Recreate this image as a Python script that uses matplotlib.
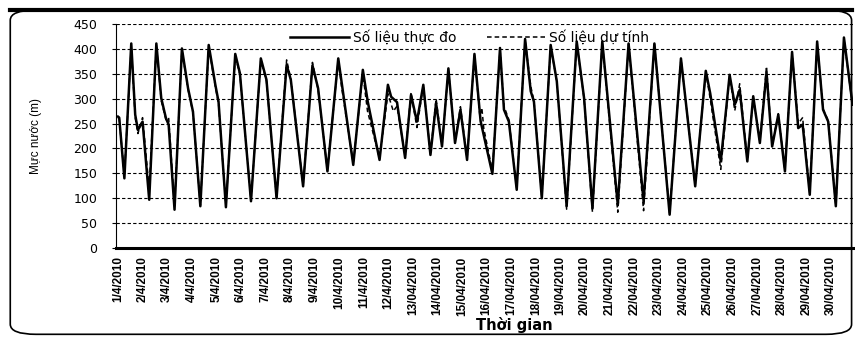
import numpy as np
import matplotlib.pyplot as plt
from matplotlib.patches import FancyBboxPatch

# time in days since 1/4/2010 00:00, water level (cm shown as "m" in the source)
t_do = [0.0, 0.05, 0.26, 0.54, 0.70, 0.81, 1.00, 1.27, 1.56, 1.76, 1.95, 2.06, 2.30,
        2.60, 2.85, 3.05, 3.35, 3.69, 3.96, 4.09, 4.39, 4.77, 4.96, 5.41, 5.81, 6.04,
        6.45, 6.86, 7.03, 7.53, 7.91, 8.14, 8.52, 8.96, 9.57, 9.96, 10.16, 10.64,
        10.98, 11.11, 11.35, 11.68, 11.92, 12.16, 12.42, 12.71, 12.94, 13.18, 13.44,
        13.71, 13.93, 14.20, 14.50, 14.75, 15.23, 15.54, 15.70, 15.90, 16.22, 16.56,
        16.79, 16.92, 17.24, 17.60, 17.85, 18.25, 18.66, 18.96, 19.30, 19.70, 20.33,
        20.77, 21.38, 21.82, 22.44, 22.90, 23.48, 23.91, 24.09, 24.52, 24.88, 25.09,
        25.29, 25.60, 25.84, 26.11, 26.38, 26.61, 26.86, 27.13, 27.42, 27.67, 27.85,
        28.14, 28.44, 28.68, 28.89, 29.20, 29.53, 29.88]
h_do = [264, 262, 140, 411, 268, 237, 254, 97, 411, 301, 261, 248, 77,
        401, 321, 274, 84, 408, 328, 294, 82, 390, 351, 94, 381, 338,
        100, 368, 338, 124, 367, 321, 154, 381, 167, 358, 294, 177,
        328, 304, 293, 181, 308, 254, 328, 187, 291, 204, 361,
        211, 278, 177, 390, 255, 149, 402, 278, 254, 117, 420,
        315, 294, 100, 408, 335, 84, 415, 301, 80, 415, 87,
        411, 94, 411, 67, 381, 124, 356, 311, 174, 348, 288,
        318, 174, 305, 211, 353, 204, 268, 154, 394, 241, 248,
        107, 415, 278, 254, 84, 423, 288]

t_dt = [0.0, 0.05, 0.26, 0.54, 0.70, 0.81, 1.00, 1.27, 1.56, 1.76, 1.95, 2.06, 2.30,
        2.60, 2.85, 3.05, 3.35, 3.69, 3.96, 4.09, 4.39, 4.77, 4.96, 5.41, 5.81, 6.04,
        6.45, 6.86, 7.03, 7.53, 7.91, 8.14, 8.52, 8.96, 9.10, 9.57, 9.96, 10.15, 10.64,
        10.98, 11.20, 11.35, 11.68, 11.92, 12.16, 12.42, 12.71, 12.94, 13.18, 13.44,
        13.71, 13.93, 14.20, 14.50, 14.72, 14.80, 14.88, 15.23, 15.54, 15.70, 15.90,
        16.22, 16.56, 16.79, 16.92, 17.24, 17.60, 17.85, 18.25, 18.66, 18.96, 19.30,
        19.70, 20.33, 20.77, 21.38, 21.82, 22.44, 22.90, 23.48, 23.91, 24.09, 24.52,
        24.88, 25.09, 25.29, 25.60, 25.84, 26.11, 26.38, 26.61, 26.86, 27.13, 27.42,
        27.67, 27.85, 28.14, 28.44, 28.68, 28.89, 29.20, 29.53, 29.88]
h_dt = [262, 260, 145, 405, 262, 230, 262, 118, 408, 296, 258, 262, 85,
        398, 318, 272, 86, 405, 324, 290, 85, 386, 348, 96, 378, 335,
        102, 378, 340, 126, 373, 318, 156, 378, 322, 170, 350, 275, 180,
        310, 275, 285, 184, 312, 242, 326, 190, 300, 206, 358,
        213, 284, 180, 388, 265, 282, 240, 155, 398, 285, 258,
        120, 418, 325, 296, 103, 405, 335, 78, 412, 300, 72,
        413, 72, 410, 75, 410, 70, 380, 126, 354, 300, 158,
        346, 276, 330, 176, 303, 213, 365, 206, 270, 156, 392,
        250, 262, 110, 413, 280, 256, 86, 420, 286]

day_labels = [f"{d}/4/2010" for d in range(1, 13)] + [f"{d}/04/2010" for d in range(13, 31)]
day_ticks = list(range(30))

fig = plt.figure(figsize=(8.55, 3.37), dpi=100)
ax = fig.add_axes([0.1357, 0.264, 0.862, 0.6646])

ax.plot(t_do, h_do, color='black', lw=1.8, solid_joinstyle='round', label='Số liệu thực đo')
ax.plot(t_dt, h_dt, color='black', lw=1.1, ls=(0, (3, 2)), label='Số liệu dự tính')

ax.set_xlim(-0.08, 29.9)
ax.set_ylim(0, 450)
ax.set_yticks(range(0, 451, 50))
ax.yaxis.grid(True, color='black', ls=(0, (3, 2)), lw=0.8)
for s in ['top', 'right']:
    ax.spines[s].set_visible(False)
ax.spines['left'].set_linewidth(0.8)
ax.spines['bottom'].set_linewidth(2.2)
ax.spines['bottom'].set_linestyle((0, (2, 1)))
ax.tick_params(axis='y', length=3, labelsize=9, pad=10.5)
ax.tick_params(axis='x', length=0, pad=6)

ax.set_xticks(day_ticks)
ax.set_xticklabels(day_labels, rotation=90, fontsize=8.5, fontweight='bold',
                   family='Liberation Sans')

ax.set_xlabel('Thời gian', fontsize=10.5, fontweight='bold')
ax.xaxis.set_label_coords(0.54, -0.31)
ax.set_ylabel('Mực nước (m)', fontsize=8.5, family='Liberation Sans')
ax.yaxis.set_label_coords(-0.10, 0.5)

ax.legend(loc='center', bbox_to_anchor=(0.48, 0.942), ncol=2, frameon=False,
          handlelength=4.2, columnspacing=2.2, handletextpad=0.3,
          prop={'size': 10})

# scanned chart frame
frame = FancyBboxPatch((0.012, 0.008), 0.984, 0.962, boxstyle='round,pad=0,rounding_size=0.03',
                       transform=fig.transFigure, fill=False, lw=1.2, ec='black')
fig.patches.append(frame)
fig.add_artist(plt.Line2D([0.012, 0.996], [0.97, 0.97], transform=fig.transFigure,
                          color='black', lw=3))

fig.savefig('out.png', dpi=100)
